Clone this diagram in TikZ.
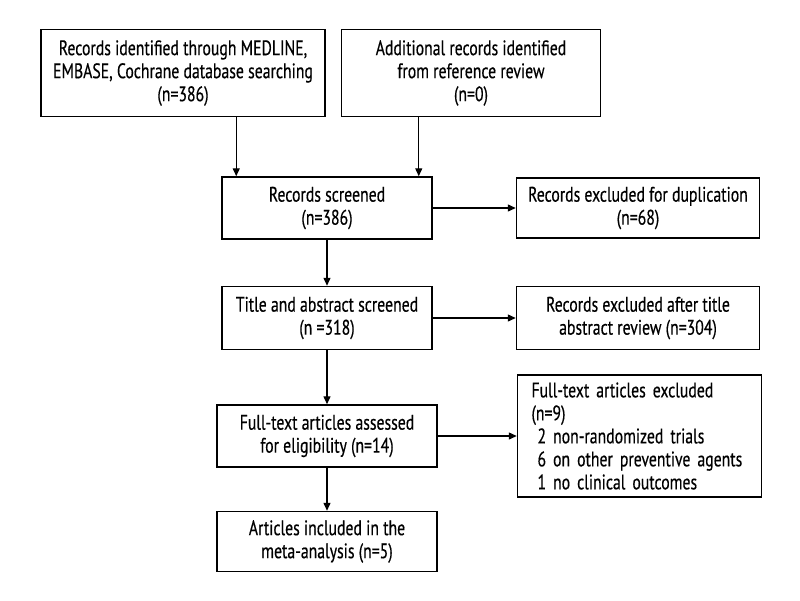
\documentclass[tikz,border=0pt]{standalone}
\usepackage{fontspec}
\setmainfont{PT Sans}[FakeStretch=0.75,FakeBold=0.4]
\usetikzlibrary{arrows.meta,positioning}
\tikzset{
    %Define standard arrow tip
    >={Triangle[length=8pt,width=7pt]},
    %Define style for boxes
    block/.style={
           rectangle,
           draw=black,
           line width=1.5pt,
           align=center,
           inner sep=2pt,
           font=\fontsize{21}{23}\selectfont},
    % Define arrow style
    arrow/.style={
           ->,
           line width=1.4pt}
}
\begin{document}
\begin{tikzpicture}[x=1pt, y=-1pt, node distance=46pt]
    \useasboundingbox (0,0) rectangle (800,600);
    \node [block, minimum width=210pt, minimum height=62pt] (screened) at (327,208) {Records screened\\(n=386)};
    \node [block, minimum width=284pt, minimum height=87pt, above=59pt of screened, xshift=-144pt] (database) {Records identified through MEDLINE,\\EMBASE, Cochrane database searching\\(n=386)};
    \node [block, minimum width=259pt, minimum height=87pt, right=15pt of database] (reference) {Additional records identified\\from reference review\\(n=0)};
    \node [block, minimum width=243pt, minimum height=60pt, right=83pt of screened] (duplicates) {Records excluded for duplication\\(n=68)};
    \node [block, minimum width=210pt, minimum height=63pt, below=46pt of screened] (title) {Title and abstract screened\\(n =318)};
    \node [block, minimum width=243pt, minimum height=63pt, right=83pt of title] (titleexcl) {Records excluded after title\\abstract review (n=304)};
    \node [block, minimum width=220pt, minimum height=62pt, below=54pt of title] (fulltext) {Full-text articles assessed\\for eligibility (n=14)};
    \node [block, align=left, text width=216pt, inner xsep=14pt, minimum height=122pt, right=79pt of fulltext] (fullexcl) {Full-text articles excluded\\(n=9)\\\hspace*{6pt}2 non-randomized trials\\\hspace*{6pt}6 on other preventive agents\\\hspace*{6pt}1 no clinical outcomes};
    \node [block, minimum width=220pt, minimum height=60pt, below=43pt of fulltext] (included) {Articles included in the\\meta-analysis (n=5)};

    \coordinate (inleft) at ([xshift=15pt]screened.north west);
    \coordinate (inright) at ([xshift=-14pt]screened.north east);

	\path (inleft |- database.south) edge[arrow] (inleft);
	\path (inright |- reference.south) edge[arrow] (inright);
	\path (screened) edge[arrow] (duplicates);
	\path (screened) edge[arrow] (title);
	\path (title) edge[arrow] (titleexcl);
	\path (title) edge[arrow] (fulltext);
	\path (fulltext.east) edge[arrow] (fulltext.east -| fullexcl.west);
	\path (fulltext) edge[arrow] (included);
\end{tikzpicture}
\end{document}
